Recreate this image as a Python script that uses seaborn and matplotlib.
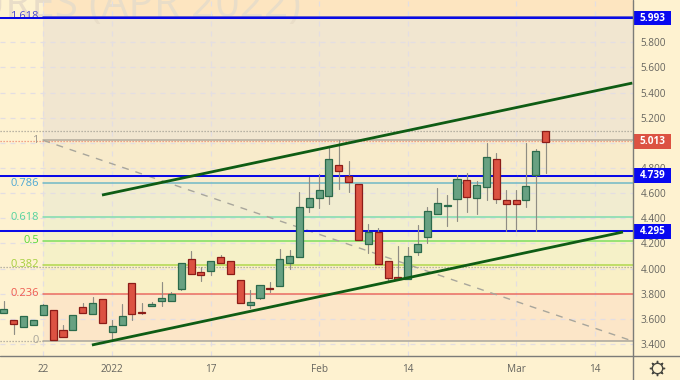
import numpy as np
import pandas as pd
import matplotlib
matplotlib.use("Agg")
import matplotlib.pyplot as plt
import seaborn as sns
from matplotlib.patches import Rectangle
from matplotlib.transforms import blended_transform_factory

opens = [3.647,3.591,3.533,3.554,3.631,3.668,3.514,3.514,3.697,3.641,3.755,3.498,3.551,3.888,3.652,3.705,3.745,3.74,3.835,4.079,3.973,3.981,4.092,4.063,3.909,3.71,3.769,3.848,3.859,4.045,4.092,4.493,4.562,4.58,4.827,4.737,4.673,4.198,4.291,4.058,3.93,3.917,4.13,4.249,4.432,4.498,4.551,4.708,4.564,4.649,4.869,4.543,4.543,4.543,4.748,5.095]
closes = [3.676,3.562,3.62,3.591,3.708,3.434,3.458,3.628,3.647,3.726,3.57,3.543,3.62,3.641,3.644,3.721,3.769,3.798,4.045,3.96,3.952,4.058,4.045,3.96,3.724,3.734,3.872,3.838,4.079,4.1,4.488,4.559,4.623,4.869,4.777,4.689,4.228,4.291,4.037,3.923,3.917,4.1,4.198,4.458,4.525,4.506,4.713,4.572,4.665,4.885,4.551,4.517,4.517,4.657,4.933,5.01]
highs = [3.742,3.591,3.62,3.591,3.72,3.668,3.551,3.628,3.724,3.777,3.755,3.591,3.718,3.888,3.724,3.734,3.891,3.811,4.045,4.14,4.015,4.058,4.108,4.063,3.909,3.83,3.872,3.891,4.153,4.145,4.612,4.73,4.75,4.97,5.023,4.859,4.673,4.352,4.32,4.058,4.18,4.169,4.347,4.493,4.639,4.586,4.745,4.758,4.697,5.002,4.923,4.625,4.625,4.997,4.949,5.095]
lows = [3.647,3.477,3.533,3.554,3.631,3.43,3.458,3.514,3.647,3.641,3.57,3.427,3.551,3.591,3.636,3.705,3.705,3.74,3.83,3.96,3.904,3.949,4.045,3.96,3.724,3.689,3.755,3.816,3.859,3.997,4.092,4.45,4.48,4.514,4.633,4.612,4.228,4.127,4.037,3.896,3.917,3.917,4.11,4.206,4.432,4.339,4.379,4.453,4.434,4.546,4.519,4.299,4.299,4.493,4.299,4.758]

x_tick_pos = [4, 11, 21, 32, 41, 52, 60]
x_tick_labels = ["22", "2022", "17", "Feb", "14", "Mar", "14"]
price_ticks = [3.4, 3.6, 3.8, 4.0, 4.2, 4.4, 4.6, 4.8, 5.2, 5.4, 5.6, 5.8]
grid_prices = [3.4, 3.6, 3.8, 4.0, 4.2, 4.4, 4.6, 4.8, 5.0, 5.2, 5.4, 5.6, 5.8]

fib_labels = ["0", "0.236", "0.382", "0.5", "0.618", "0.786", "1", "1.618"]
fib_values = [3.424, 3.80, 4.031, 4.222, 4.41, 4.68, 5.02, 6.005]
fib_colors = ["#a9a69c", "#ec6c60", "#b0d84e", "#7ee05e", "#7fdcb0", "#6fb9c6", "#b2aa9c", "#3a3ad0"]
fib_text_colors = ["#a9a69c", "#ee5a50", "#a5cf3e", "#55d838", "#55d39c", "#4ea8d4", "#a09a90", "#4a4ad0"]
zone_colors = ["#fce6c8", "#f9f0c6", "#f5f1c8", "#f2efcd", "#f1ecd0", "#f8ebcb", "#f1e6d0", "#fde5c0"]

blue_levels = [5.993, 4.739, 4.295]
blue_labels = ["5.993", "4.739", "4.295"]
last_price = 5.013
dotted_grey = [5.095, 4.016]

upper_x, upper_y = [9.96, 63.8], [4.585, 5.476]
lower_x, lower_y = [8.94, 62.85], [3.392, 4.291]
diag_x, diag_y = [4.0, 63.8], [5.02, 3.424]

sns.set_theme(style="white")
plt.rcParams["font.family"] = ["Open Sans", "DejaVu Sans"]

BG = "#fef2d0"
fig = plt.figure(figsize=(6.8, 3.8), dpi=100, facecolor=BG)
ax = fig.add_axes([0, 24 / 380, 632.5 / 680, 356 / 380], facecolor=BG)
ax.set_axisbelow(True)

idx = np.arange(len(opens))
df = pd.DataFrame({"i": idx, "open": opens, "close": closes, "high": highs, "low": lows})
df["top"] = df[["open", "close"]].max(axis=1)
df["bot"] = df[["open", "close"]].min(axis=1)
df["h"] = df["top"] - df["bot"]
df["up"] = df["close"] >= df["open"]

wick = pd.melt(df, id_vars="i", value_vars=["high", "low"], value_name="price").sort_values("i")
sns.lineplot(data=wick, x="i", y="price", units="i", estimator=None, sort=False,
             color="#8f8d84", linewidth=0.85, ax=ax, zorder=3, legend=False)

for up, face, edge in [(True, "#68a182", "#2b6a4b"), (False, "#dc5242", "#8c1c18")]:
    sub = df[df["up"] == up]
    sns.barplot(data=sub, x="i", y="h", bottom=sub["bot"].to_numpy(), native_scale=True,
                color=face, saturation=1, width=0.72, edgecolor=edge, linewidth=0.9,
                ax=ax, zorder=4, errorbar=None)

x_left = (0 - 3.9) / 9.85
x_right = (632.5 - 3.9) / 9.85
ax.set_xlim(x_left, x_right)
y_top, y_bot = 3.4 + 344 / 125.7, 3.4 - 12 / 125.7
ax.set_ylim(y_bot, y_top)

# Fibonacci zones and levels
edges = fib_values + [y_top]
for k, col in enumerate(zone_colors):
    ax.fill_between([4, x_right], edges[k], edges[k + 1], color=col, lw=0, zorder=0.1)
for val, col, lab, tc in zip(fib_values, fib_colors, fib_labels, fib_text_colors):
    ax.plot([4, x_right], [val, val], color=col, lw=1.1, zorder=1.5)
    ax.text(3.55, val, lab, color=tc, ha="right", va="center", fontsize=8.0, zorder=1.6)

ax.text(30.2, 6.005, "FUTURES (APR 2022)", ha="right", va="baseline", fontsize=30.5,
        color="#e9ddc8", zorder=0.2, clip_on=True)

# dotted levels
for val in dotted_grey:
    ax.axhline(val, color="#a5a296", lw=0.9, ls=(0, (1, 1.4)), zorder=1.4)
ax.axhline(last_price, color="#ee8a70", lw=0.9, ls=(0, (1, 1.4)), zorder=1.4)
ax.plot([x_left, 4], [fib_values[0], fib_values[0]], color="#a5a296", lw=0.9, ls=(0, (1, 1.4)), zorder=1.4)

ax.plot(diag_x, diag_y, color="#a8a69c", lw=1.0, ls=(0, (5, 5)), zorder=2)
for lvl in blue_levels:
    ax.axhline(lvl, color="#0a0ae6", lw=1.45, zorder=2.5)
ax.plot(upper_x, upper_y, color="#0e5c14", lw=2.0, zorder=5, solid_capstyle="butt")
ax.plot(lower_x, lower_y, color="#0e5c14", lw=2.0, zorder=5, solid_capstyle="butt")

# axes and grid
ax.set_xticks(x_tick_pos, x_tick_labels)
ax.set_yticks(price_ticks, [f"{v:.3f}" for v in price_ticks])
ax.yaxis.tick_right()
ax.tick_params(axis="both", length=0, labelsize=7.2, labelcolor="#66655f")
ax.tick_params(axis="x", pad=5.5)
ax.tick_params(axis="y", pad=5.8)
ax.grid(False)
ax.xaxis.grid(True, color="#e3dee2", lw=0.9, ls=(0, (4, 4)))
for val in grid_prices:
    ax.axhline(val, color="#e3dee2", lw=0.9, ls=(0, (4, 4)), zorder=0.5)
ax.set_xlabel("")
ax.set_ylabel("")
for name, spine in ax.spines.items():
    spine.set_visible(False)

# price tags on the right scale
tr = blended_transform_factory(ax.transAxes, ax.transData)
box_w = 38 / 632.5
box_h = 14.6 / 125.7
def tag(val, label, col):
    ax.add_patch(Rectangle((1, val - box_h / 2), box_w, box_h, transform=tr, facecolor=col,
                           edgecolor="none", clip_on=False, zorder=6))
    ax.text(1 + 20 / 632.5, val, label, transform=tr, ha="center", va="center", color="white",
            fontsize=7.2, fontweight="bold", zorder=7, clip_on=False)
for lvl, lab in zip(blue_levels, blue_labels):
    tag(lvl, lab, "#0808f0")
tag(last_price, "5.013", "#dc5242")

# frame lines of the scale
fig.add_artist(plt.Line2D([0, 1], [24 / 380, 24 / 380], color="#7c7c78", lw=1.0, transform=fig.transFigure))
fig.add_artist(plt.Line2D([632.5 / 680, 632.5 / 680], [0, 1], color="#7c7c78", lw=1.0, transform=fig.transFigure))

# settings icon
gx, gy = 657 / 680, 1 - 368 / 380
fig.add_artist(plt.Line2D([gx], [gy], marker=(8, 2, 0), ms=11, mew=1.0, color="#45453f", transform=fig.transFigure))
fig.add_artist(plt.Line2D([gx], [gy], marker="o", ms=7.5, mew=1.0, mfc=BG, mec="#45453f", color="none", transform=fig.transFigure))

fig.savefig("out.png", dpi=100, facecolor=BG)
